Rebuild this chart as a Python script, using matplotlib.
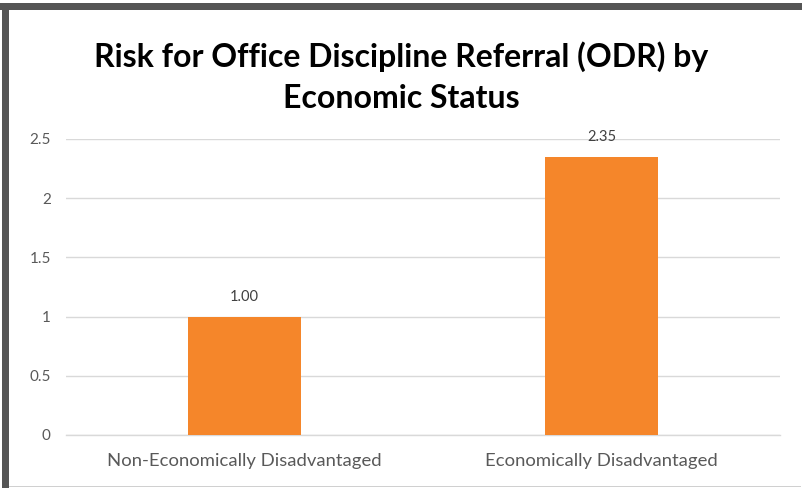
import matplotlib
matplotlib.use("Agg")
import matplotlib.pyplot as plt
from matplotlib.patches import Rectangle

categories = ["Non-Economically Disadvantaged", "Economically Disadvantaged"]
values = [1.00, 2.35]
yticks = [0, 0.5, 1, 1.5, 2, 2.5]
ytick_labels = ["0", "0.5", "1", "1.5", "2", "2.5"]
title = "Risk for Office Discipline Referral (ODR) by\nEconomic Status"

plt.rcParams['font.family'] = ['Lato', 'DejaVu Sans']

fig = plt.figure(figsize=(8.02, 4.88), dpi=100)
fig.patch.set_facecolor("white")

# frame border (dark on top/left, light on bottom)
fig.patches.append(Rectangle((0, 1 - 10/488), 1, 7/488, transform=fig.transFigure,
                             facecolor="#555555", edgecolor="none", zorder=0))
fig.patches.append(Rectangle((2/802, 0), 7/802, 1 - 3/488, transform=fig.transFigure,
                             facecolor="#555555", edgecolor="none", zorder=0))
fig.patches.append(Rectangle((9/802, 1/488), 1 - 10/802, 1.5/488, transform=fig.transFigure,
                             facecolor="#d0d0d0", edgecolor="none", zorder=0))

ax = fig.add_axes([66/802, 1 - 435/488, (780 - 66)/802, (435 - 139)/488])
ax.set_facecolor("none")

x = list(range(len(categories)))
bars = ax.bar(x, values, width=0.314, color="#F5862A", zorder=3)
for xi, v in zip(x, values):
    ax.annotate(f"{v:.2f}", (xi, v), xytext=(0, 9), textcoords="offset points",
                ha="center", va="bottom", fontsize=10.5, color="#404040")

ax.set_xlim(-0.5, 1.5)
ax.set_ylim(0, 2.5)
ax.set_yticks(yticks)
ax.set_yticklabels(ytick_labels)
ax.set_xticks(x)
ax.set_xticklabels(categories)
ax.yaxis.grid(True, color="#d9d9d9", linewidth=1, zorder=0)
ax.set_axisbelow(True)
for s in ["top", "right", "left"]:
    ax.spines[s].set_visible(False)
ax.spines["bottom"].set_color("#d9d9d9")
ax.spines["bottom"].set_linewidth(1)
ax.tick_params(axis="y", length=0, colors="#595959", labelsize=11, pad=11)
ax.tick_params(axis="x", length=0, colors="#595959", labelsize=13.3, pad=13)

fig.text(0.5, 1 - 77/488, title, ha="center", va="center", fontsize=23,
         fontweight="bold", color="#000000", linespacing=1.5)

fig.savefig("out.png", dpi=100)
